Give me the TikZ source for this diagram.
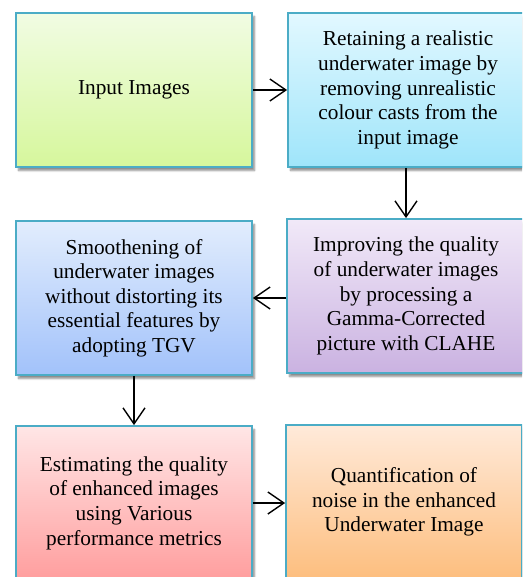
\documentclass[tikz,border=0pt]{standalone}
\usepackage{fontspec}
\setmainfont{Liberation Serif}
\usetikzlibrary{arrows.meta,shadows.blur}
\definecolor{bord}{HTML}{4BACC6}
\definecolor{aT}{HTML}{F1FCE3}\definecolor{aB}{HTML}{D6F79C}
\definecolor{bT}{HTML}{E2F8FF}\definecolor{bB}{HTML}{9FE5FA}
\definecolor{cT}{HTML}{E2EDFD}\definecolor{cB}{HTML}{A2C2FA}
\definecolor{dT}{HTML}{F1E9F8}\definecolor{dB}{HTML}{CAB2E1}
\definecolor{eT}{HTML}{FFE6E6}\definecolor{eB}{HTML}{FF9E9E}
\definecolor{fT}{HTML}{FFEADA}\definecolor{fB}{HTML}{FDBE7E}
\tikzset{
  box/.style={draw=bord, line width=1.8pt, minimum width=236pt, minimum height=154pt,
    align=center, inner sep=4pt,
    font=\fontsize{21.3}{24.6}\selectfont,
    blur shadow={shadow xshift=2.5pt, shadow yshift=-3.5pt, shadow blur steps=6, shadow blur extra rounding=0pt, shadow opacity=45}},
  flow/.style={draw=black, line width=1.4pt, -{Straight Barb[length=16pt,width=22pt,line width=1.4pt]}}
}
\begin{document}
\begin{tikzpicture}[x=1pt,y=-1pt]
\useasboundingbox (0,0) rectangle (522,577);
\begin{scope}
\clip (0,0) rectangle (522,577);
\node[box, top color=aT, bottom color=aB] (a) at (134,90) {Input Images};
\node[box, top color=bT, bottom color=bB, minimum width=240pt] (b) at (408,90) {Retaining a realistic\\underwater image by\\removing unrealistic\\colour casts from the\\input image};
\node[box, top color=cT, bottom color=cB] (c) at (134,298) {Smoothening of\\underwater images\\without distorting its\\essential features by\\adopting TGV};
\node[box, top color=dT, bottom color=dB, minimum width=238pt] (d) at (406,296) {Improving the quality\\of underwater images\\by processing a\\Gamma-Corrected\\picture with CLAHE};
\node[box, top color=eT, bottom color=eB] (e) at (134,503) {Estimating the quality\\of enhanced images\\using Various\\performance metrics};
\node[box, top color=fT, bottom color=fB] (f) at (404,502) {Quantification of\\noise in the enhanced\\Underwater Image};
\draw[flow] (a.east) -- (a.east -| b.west);
\draw[flow] (b.south -| d.north) -- (d.north);
\draw[flow] (d.west |- c.east) -- (c.east);
\draw[flow] (c.south) -- (e.north);
\draw[flow] (e.east) -- (e.east -| f.west);
\end{scope}
\end{tikzpicture}
\end{document}
